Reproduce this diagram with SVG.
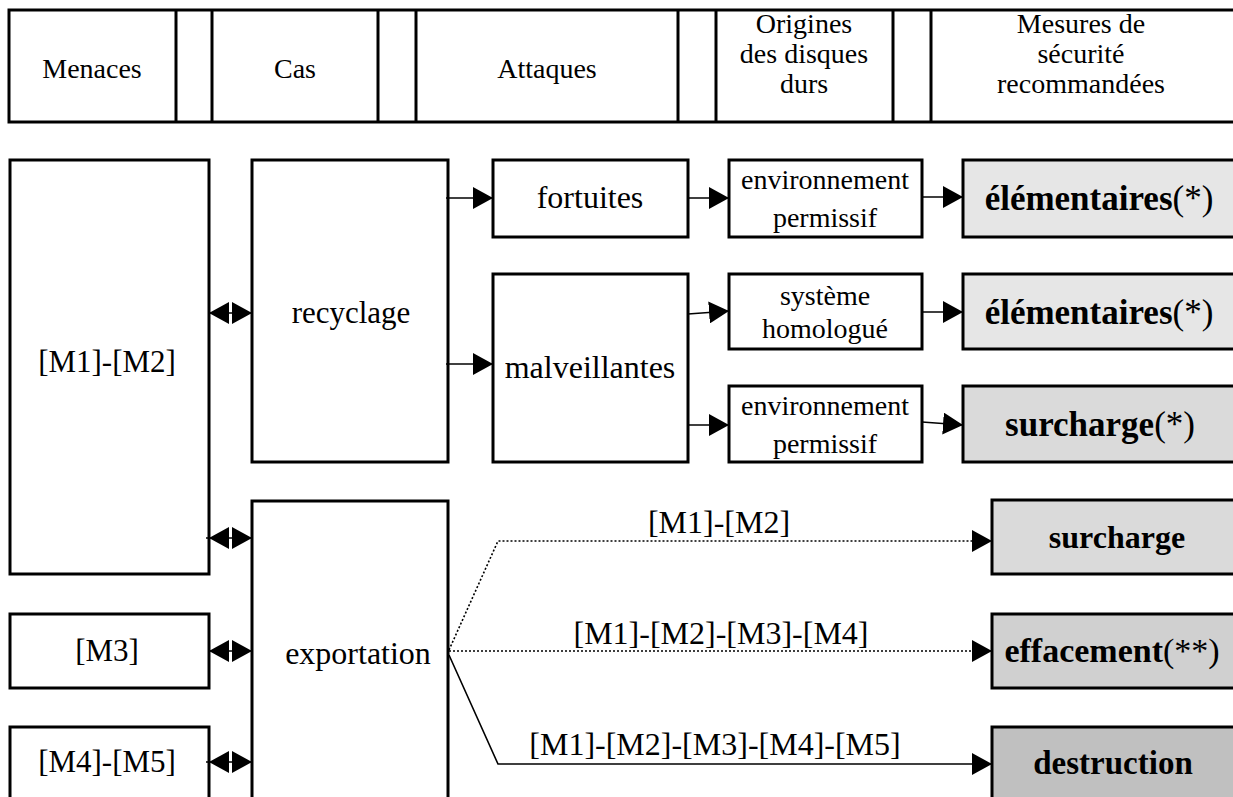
<svg xmlns="http://www.w3.org/2000/svg" width="1233" height="797" viewBox="0 0 1233 797">
<defs>
<style>
.box{fill:#fff;stroke:#000;stroke-width:3}
.hdr{fill:none;stroke:#000;stroke-width:3}
.g1{fill:#e6e6e6;stroke:#000;stroke-width:3}
.g2{fill:#dadada;stroke:#000;stroke-width:3}
.g3{fill:#d0d0d0;stroke:#000;stroke-width:3}
.g4{fill:#c0c0c0;stroke:#000;stroke-width:3}
text{font-family:"Liberation Serif","Times New Roman",serif;font-size:28px;fill:#000;text-anchor:middle}
.big{font-size:31px}
.lab{font-size:32px}
.bx{font-size:35px}
.b{font-weight:bold}
.ln{fill:none;stroke:#000;stroke-width:1.6}
.dot{fill:none;stroke:#000;stroke-width:1.6;stroke-dasharray:2 2}
</style>
<marker id="ah" markerUnits="userSpaceOnUse" markerWidth="20" markerHeight="22" refX="20" refY="11" orient="auto-start-reverse" viewBox="0 0 20 22">
<path d="M0,0 L20,11 L0,22 Z" fill="#000"/>
</marker>
</defs>

<g id="header">
<rect class="hdr" x="9" y="10" width="1235" height="112"/>
<line class="hdr" x1="176" y1="10" x2="176" y2="122"/>
<line class="hdr" x1="212" y1="10" x2="212" y2="122"/>
<line class="hdr" x1="378" y1="10" x2="378" y2="122"/>
<line class="hdr" x1="416" y1="10" x2="416" y2="122"/>
<line class="hdr" x1="678" y1="10" x2="678" y2="122"/>
<line class="hdr" x1="716" y1="10" x2="716" y2="122"/>
<line class="hdr" x1="893" y1="10" x2="893" y2="122"/>
<line class="hdr" x1="931" y1="10" x2="931" y2="122"/>
<text x="92" y="78">Menaces</text>
<text x="295" y="78">Cas</text>
<text x="547" y="78">Attaques</text>
<text x="804" y="33">Origines</text>
<text x="804" y="63">des disques</text>
<text x="804" y="93">durs</text>
<text x="1081" y="33">Mesures de</text>
<text x="1081" y="63">sécurité</text>
<text x="1081" y="93">recommandées</text>
</g>

<g id="m1m2"><rect class="box" x="10" y="160" width="199" height="414"/><text class="big" x="107" y="372">[M1]-[M2]</text></g>
<g id="m3"><rect class="box" x="10" y="614" width="199" height="74"/><text class="big" x="107" y="661">[M3]</text></g>
<g id="m4m5"><rect class="box" x="10" y="727" width="199" height="80"/><text class="big" x="107" y="772">[M4]-[M5]</text></g>

<g id="recyclage"><rect class="box" x="252" y="160" width="196" height="302"/><text class="big" x="351" y="323">recyclage</text></g>
<g id="exportation"><rect class="box" x="252" y="501" width="196" height="306"/><text class="lab" x="358" y="664">exportation</text></g>

<g id="fortuites"><rect class="box" x="493" y="160" width="195" height="77"/><text class="lab" x="590" y="208">fortuites</text></g>
<g id="malveillantes"><rect class="box" x="493" y="274" width="195" height="188"/><text class="lab" x="590" y="378">malveillantes</text></g>

<g id="env1"><rect class="box" x="729" y="160" width="193" height="77"/><text x="825" y="189">environnement</text><text x="825" y="227">permissif</text></g>
<g id="systeme"><rect class="box" x="729" y="274" width="193" height="75"/><text x="825" y="305">système</text><text x="825" y="338">homologué</text></g>
<g id="env2"><rect class="box" x="729" y="386" width="193" height="76"/><text x="825" y="415">environnement</text><text x="825" y="453">permissif</text></g>

<g id="elem1"><rect class="g1" x="963" y="160" width="280" height="77"/><text class="bx" x="1099" y="210"><tspan class="b">élémentaires</tspan>(*)</text></g>
<g id="elem2"><rect class="g1" x="963" y="274" width="280" height="75"/><text class="bx" x="1099" y="324"><tspan class="b">élémentaires</tspan>(*)</text></g>
<g id="surcharge1"><rect class="g2" x="963" y="386" width="280" height="76"/><text class="bx" x="1100" y="436"><tspan class="b">surcharge</tspan>(*)</text></g>
<g id="surcharge2"><rect class="g2" x="992" y="500" width="250" height="74"/><text x="1117" y="548" class="b lab">surcharge</text></g>
<g id="effacement"><rect class="g3" x="992" y="614" width="250" height="74"/><text x="1112" y="662" style="font-size:34px"><tspan class="b">effacement</tspan>(**)</text></g>
<g id="destruction"><rect class="g4" x="992" y="727" width="250" height="80"/><text x="1113" y="774" class="b" style="font-size:33px">destruction</text></g>

<g id="connectors">
<line class="ln" x1="209" y1="313" x2="252" y2="313" marker-start="url(#ah)" marker-end="url(#ah)"/>
<line class="ln" x1="206" y1="538" x2="252" y2="538" marker-end="url(#ah)"/>
<path d="M209,538 L229,527 L229,549 Z" fill="#000"/>
<line class="ln" x1="209" y1="651" x2="252" y2="651" marker-start="url(#ah)" marker-end="url(#ah)"/>
<line class="ln" x1="206" y1="762" x2="252" y2="762" marker-end="url(#ah)"/>
<path d="M209,762 L229,751 L229,773 Z" fill="#000"/>
<line class="ln" x1="446" y1="198" x2="493" y2="198" marker-end="url(#ah)"/>
<line class="ln" x1="446" y1="364" x2="493" y2="364" marker-end="url(#ah)"/>
<line class="ln" x1="688" y1="198" x2="729" y2="198" marker-end="url(#ah)"/>
<line class="ln" x1="688" y1="314" x2="729" y2="311" marker-end="url(#ah)"/>
<line class="ln" x1="688" y1="425" x2="729" y2="425" marker-end="url(#ah)"/>
<line class="ln" x1="922" y1="197" x2="963" y2="197" marker-end="url(#ah)"/>
<line class="ln" x1="922" y1="312" x2="963" y2="312" marker-end="url(#ah)"/>
<line class="ln" x1="922" y1="422" x2="963" y2="425" marker-end="url(#ah)"/>
<polyline class="dot" points="449,650 498,541 992,541" marker-end="url(#ah)"/>
<line class="dot" x1="449" y1="651" x2="992" y2="651" marker-end="url(#ah)"/>
<polyline class="ln" points="449,655 498,764 992,764" marker-end="url(#ah)"/>
<text class="lab" x="719" y="533">[M1]-[M2]</text>
<text class="lab" x="721" y="644">[M1]-[M2]-[M3]-[M4]</text>
<text class="lab" x="715" y="755">[M1]-[M2]-[M3]-[M4]-[M5]</text>
</g>
</svg>
